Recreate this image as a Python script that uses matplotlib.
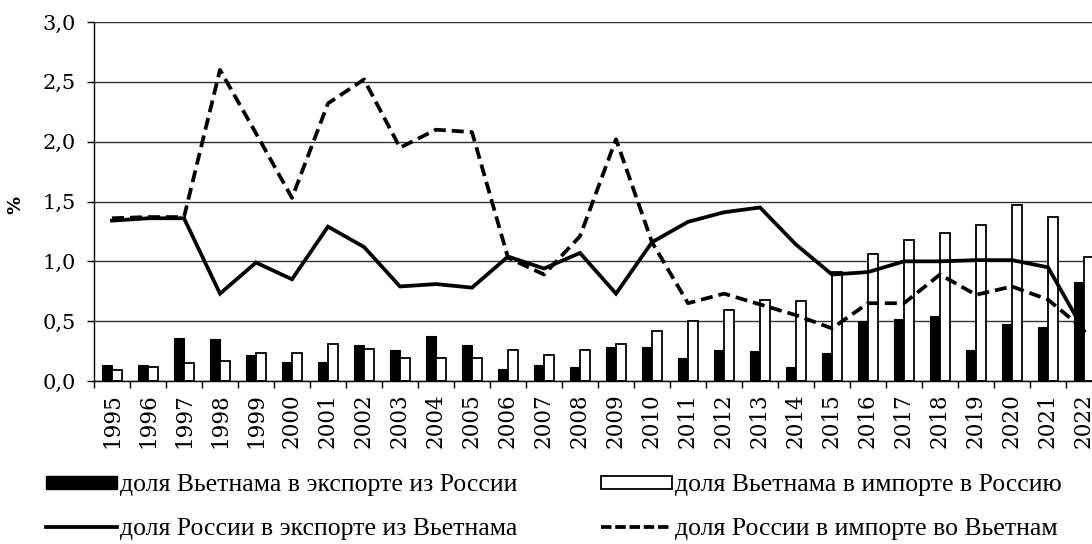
import matplotlib
matplotlib.use("Agg")
import matplotlib.pyplot as plt
import numpy as np
from matplotlib.lines import Line2D
from matplotlib.patches import Patch

years = [str(y) for y in range(1995, 2023)]

# доля Вьетнама в экспорте из России
exp_ru = [0.13, 0.13, 0.36, 0.35, 0.22, 0.16, 0.16, 0.30, 0.26, 0.38, 0.30, 0.10,
          0.13, 0.12, 0.28, 0.28, 0.19, 0.26, 0.25, 0.12, 0.23, 0.50, 0.52, 0.54,
          0.26, 0.48, 0.45, 0.83]
# доля Вьетнама в импорте в Россию
imp_ru = [0.09, 0.12, 0.15, 0.17, 0.23, 0.23, 0.31, 0.27, 0.19, 0.19, 0.19, 0.26,
          0.22, 0.26, 0.31, 0.42, 0.50, 0.59, 0.68, 0.67, 0.91, 1.06, 1.18, 1.24,
          1.30, 1.47, 1.37, 1.04]
# доля России в экспорте из Вьетнама
exp_vn = [1.34, 1.36, 1.36, 0.73, 0.99, 0.85, 1.29, 1.12, 0.79, 0.81, 0.78, 1.04,
          0.94, 1.07, 0.73, 1.16, 1.33, 1.41, 1.45, 1.14, 0.89, 0.91, 1.00, 1.00,
          1.01, 1.01, 0.95, 0.42]
# доля России в импорте во Вьетнам
imp_vn = [1.36, 1.37, 1.37, 2.60, 2.07, 1.53, 2.32, 2.52, 1.95, 2.10, 2.08, 1.03,
          0.89, 1.21, 2.02, 1.16, 0.65, 0.73, 0.64, 0.55, 0.44, 0.65, 0.65, 0.89,
          0.72, 0.79, 0.68, 0.43]

labels = ["доля Вьетнама в экспорте из России",
          "доля Вьетнама в импорте в Россию",
          "доля России в экспорте из Вьетнама",
          "доля России в импорте во Вьетнам"]

yticks = [0.0, 0.5, 1.0, 1.5, 2.0, 2.5, 3.0]
ytick_labels = ["0,0", "0,5", "1,0", "1,5", "2,0", "2,5", "3,0"]

W, H = 1092, 544
fig = plt.figure(figsize=(W / 100, H / 100), dpi=100)
ax = fig.add_axes([94 / W, (H - 381) / H, 1008 / W, 359 / H])

x = np.arange(len(years))
bw = 0.29
ax.bar(x - bw, exp_ru, width=bw, align="edge", color="black", edgecolor="black",
       linewidth=0.8, zorder=2)
ax.bar(x, imp_ru, width=bw, align="edge", color="white", edgecolor="black",
       linewidth=1.3, zorder=2)
ax.plot(x, exp_vn, color="black", linewidth=2.7, zorder=4, solid_joinstyle="miter")
ax.plot(x, imp_vn, color="black", linewidth=2.7, dashes=(3.2, 1.6), zorder=4)

ax.set_xlim(-0.5, len(years) - 0.5)
ax.set_ylim(0, 3.0)
ax.set_yticks(yticks)
ax.set_yticklabels(ytick_labels, fontfamily="DejaVu Serif", fontsize=15)
ax.yaxis.grid(True, color="#333333", linewidth=1.0, zorder=0)
ax.set_axisbelow(True)

ax.set_xticks(np.arange(len(years) + 1) - 0.5)
ax.set_xticklabels([])
ax.set_xticks(x, minor=True)
ax.set_xticklabels(years, minor=True, rotation=90, fontfamily="DejaVu Serif",
                   fontsize=15.5, va="top")
ax.tick_params(axis="x", which="major", direction="out", length=5, width=1)
ax.tick_params(axis="x", which="minor", length=0, pad=9)
ax.tick_params(axis="y", direction="out", length=5, width=1, pad=8)

for s in ["top", "right"]:
    ax.spines[s].set_visible(False)
ax.spines["left"].set_linewidth(1.0)
ax.spines["bottom"].set_linewidth(1.0)

fig.text(15 / W, 1 - 205 / H, "%", rotation=90, fontsize=13, fontweight="bold",
         ha="center", va="center", family="DejaVu Sans")

h_black = Patch(facecolor="black", edgecolor="black")
h_white = Patch(facecolor="white", edgecolor="black", linewidth=1.3)
h_solid = Line2D([], [], color="black", linewidth=2.7)
h_dash = Line2D([], [], color="black", linewidth=2.7, dashes=(2.8, 1.0))

fs = 18.5
common = dict(frameon=False, prop={"family": "Liberation Serif", "size": fs},
              handlelength=71 / (fs * 100 / 72), handleheight=0.4,
              handletextpad=0.12, labelspacing=0.82, borderpad=0, borderaxespad=0)
leg1 = fig.legend([h_black, h_solid], [labels[0], labels[2]], loc="center left",
                  bbox_to_anchor=(46 / W, 1 - 507 / H), **common)
leg2 = fig.legend([h_white, h_dash], [labels[1], labels[3]], loc="center left",
                  bbox_to_anchor=(601 / W, 1 - 507 / H), **common)

fig.savefig("out.png", dpi=100)
